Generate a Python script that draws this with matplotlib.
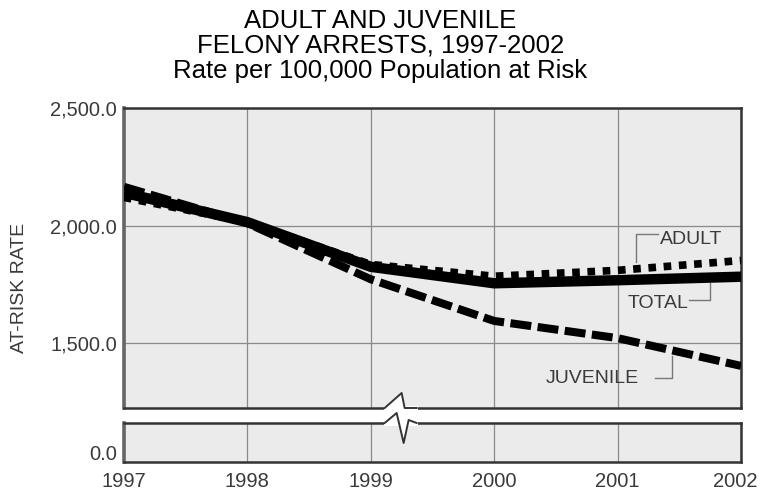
import matplotlib
matplotlib.use("Agg")
import matplotlib.pyplot as plt
from matplotlib.patches import Polygon, Rectangle
from matplotlib.lines import Line2D
from matplotlib.transforms import IdentityTransform, ScaledTranslation

plt.rcParams['font.family'] = ['Liberation Sans', 'DejaVu Sans']

years = [1997, 1998, 1999, 2000, 2001, 2002]
total = [2140, 2015, 1825, 1755, 1768, 1783]
adult = [2120, 2015, 1835, 1785, 1810, 1852]
juvenile = [2165, 2010, 1772, 1595, 1522, 1404]

title_lines = ["ADULT AND JUVENILE", "FELONY ARRESTS, 1997-2002",
               "Rate per 100,000 Population at Risk"]
yticks_top = [1500, 2000, 2500]
ytick_labels_top = ["1,500.0", "2,000.0", "2,500.0"]

W, H = 761, 492
fig = plt.figure(figsize=(W / 100, H / 100), dpi=100)
face = "#ebebeb"
spine_c = "#333333"
grid_c = "#8a8a8a"
txt_c = "#3a3a3a"

def rect(l, t, r, b):
    return [l / W, 1 - b / H, (r - l) / W, (b - t) / H]

ax = fig.add_axes(rect(124, 108, 741, 408))
ax2 = fig.add_axes(rect(124, 423, 741, 462))

for a in (ax, ax2):
    a.set_facecolor(face)
    a.set_xlim(1997, 2002)
    a.set_xticks(years)
    a.grid(axis="x", color=grid_c, lw=0.9)
    a.set_axisbelow(True)
    a.tick_params(length=0, colors=txt_c, labelsize=14.5, pad=5)
    for s in a.spines.values():
        s.set_color(spine_c)
        s.set_linewidth(1.8)
    a.spines["left"].set_color("#666666")
    a.spines["left"].set_linewidth(2.6)

ax.set_ylim(1225, 2500)
ax.set_yticks(yticks_top)
ax.set_yticklabels(ytick_labels_top)
ax.grid(axis="y", color=grid_c, lw=0.9)
ax.tick_params(axis="x", labelbottom=False)

ax2.set_ylim(-40, 125)
ax2.set_yticks([0])
ax2.set_yticklabels(["0.0"])
ax2.set_xticklabels([str(y) for y in years])
ax2.tick_params(axis="x", pad=7)

ax.plot(years, total, color="black", lw=7.5, solid_capstyle="butt",
        solid_joinstyle="round", zorder=3)
ax.plot(years, adult, color="black", lw=5.5, dashes=(1, 1),
        dash_capstyle="butt", zorder=4)
ax.plot(years, juvenile, color="black", lw=5.8, dashes=(2.6, 0.8),
        dash_capstyle="butt", zorder=5)

# labels with leader lines
lead = dict(color="#777777", lw=1.0)
fs = 14
ax.text(2001.34, 1943, "ADULT", color=txt_c, fontsize=fs, va="center", ha="left")
ax.plot([2001.33, 2001.15, 2001.15], [1964, 1964, 1845], **lead)
ax.text(2001.08, 1671, "TOTAL", color=txt_c, fontsize=fs, va="center", ha="left")
ax.plot([2001.58, 2001.745, 2001.745], [1684, 1684, 1758], **lead)
ax.text(2000.42, 1352, "JUVENILE", color=txt_c, fontsize=fs, va="center", ha="left")
ax.plot([2001.30, 2001.44, 2001.44], [1352, 1352, 1445], **lead)

ax.set_ylabel("AT-RISK RATE", color=txt_c, fontsize=14)
ax.yaxis.set_label_coords(-0.155, 0.4)

for i, line in enumerate(title_lines):
    fig.text(380.5 / W, 1 - (28 + 25 * i) / H, line, ha="center", va="baseline",
             fontsize=18.5, color="black")

fig.canvas.draw()

# nudge the last year label so it stays inside the figure
last = ax2.get_xticklabels()[-1]
last.set_transform(last.get_transform() + ScaledTranslation(-0.06, 0, fig.dpi_scale_trans))

# axis break mark
cx = ax.transData.transform((1999.25, 1500))[0]
yu = H - 408
yl = H - 423
up = [(-17, 0), (0, 15), (3, 0), (15, 0)]
lo = [(-17, 0), (-5, 10), (2, -20), (7, 3), (15, 0)]
upper = [(cx + dx, yu + dy) for dx, dy in up]
lower = [(cx + dx, yl + dy) for dx, dy in lo]
fig.add_artist(Rectangle((cx - 18, yl - 2.5), 34, yu - yl + 5, facecolor="white",
                         edgecolor="none", transform=IdentityTransform(), zorder=10))
fig.add_artist(Polygon(upper + lower[::-1], closed=True, facecolor="white",
                       edgecolor="none", transform=IdentityTransform(), zorder=11))
for pts in (upper, lower):
    fig.add_artist(Line2D([p[0] for p in pts], [p[1] for p in pts], color=spine_c,
                          lw=1.4, transform=IdentityTransform(), zorder=12))

fig.savefig("out.png", dpi=100)
